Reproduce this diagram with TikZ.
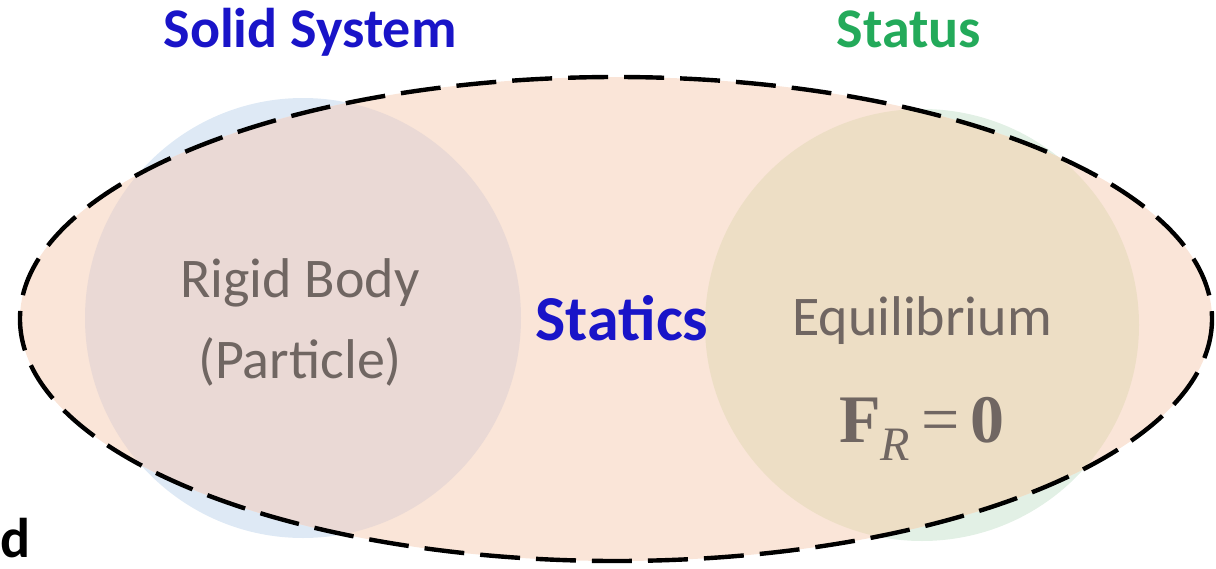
\documentclass[tikz,border=0pt]{standalone}
\usepackage{fontspec}
\setmainfont{Carlito}
\newfontfamily\timesfont{Liberation Serif}
\usepackage{xcolor}
\definecolor{stblue}{RGB}{25,20,200}
\definecolor{stgreen}{RGB}{35,170,90}
\definecolor{stgray}{RGB}{112,102,98}
\definecolor{peach}{RGB}{250,229,216}
\definecolor{solidout}{RGB}{222,233,245}
\definecolor{solidin}{RGB}{234,217,213}
\definecolor{statout}{RGB}{226,240,229}
\definecolor{statin}{RGB}{237,222,197}
\usetikzlibrary{positioning}

\begin{document}
\begin{tikzpicture}[
  x=0.5pt, y=-0.5pt,
  head/.style={font=\fontsize{28}{32}\selectfont\bfseries, inner sep=0pt, anchor=base},
  lbl/.style={font=\fontsize{28}{32}\selectfont, text=stgray, inner sep=0pt, anchor=base},
  border/.style={draw=black, line width=2.2pt, dash pattern=on 20pt off 8pt},
]
\useasboundingbox (0,0) rectangle (1216,568);

% --- the two sets, outside parts ---
\fill[solidout] (303,318) ellipse[x radius=218, y radius=220];
\fill[statout] (922,325) ellipse[x radius=217, y radius=216];

% --- statics ellipse ---
\fill[peach] (616,319) ellipse[x radius=596, y radius=242];
\begin{scope}
  \clip (616,319) ellipse[x radius=596, y radius=242];
  \fill[solidin] (303,318) ellipse[x radius=218, y radius=220];
  \fill[statin] (922,325) ellipse[x radius=217, y radius=216];
\end{scope}
\draw[border] (616,319) ellipse[x radius=596, y radius=242];

% --- headings ---
\node[head, text=stblue] (solid) at (310,47) {Solid System};
\node[head, text=stgreen] (status) at (909,47) {Status};

% --- labels ---
\node[lbl] (rigid) at (300,297) {Rigid Body};
\node[lbl] (particle) at (300,378) {(Particle)};
\node[head, font=\fontsize{32}{38}\selectfont\bfseries, text=stblue] (statics) at (622,340) {Statics};
\node[lbl] (equil) at (922,335) {Equilibrium};
\node[lbl, font=\timesfont\fontsize{34}{40}\selectfont] (force) at (922,442)
  {\textbf{F}\raisebox{-9pt}{\itshape\fontsize{24}{28}\selectfont R}\,=\,\textbf{0}};

\node[head, anchor=base west] (dlbl) at (0,557) {d};
\end{tikzpicture}
\end{document}
